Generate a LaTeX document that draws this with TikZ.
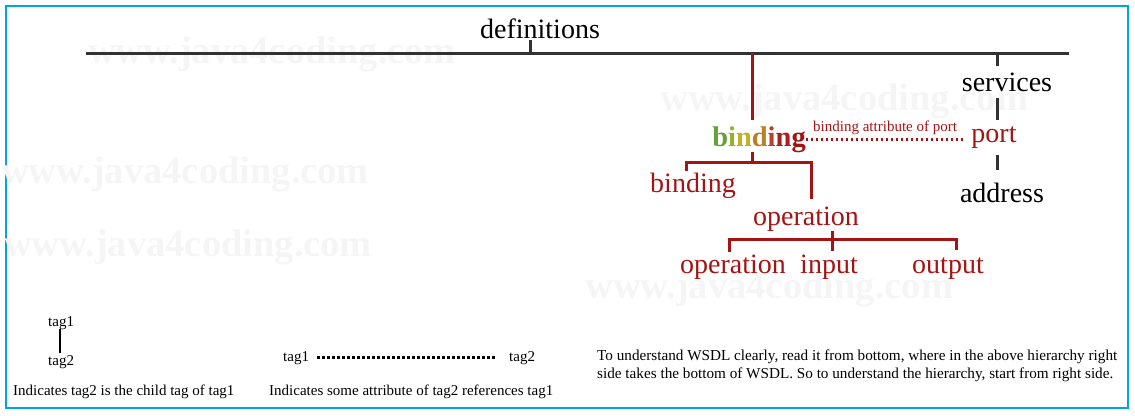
\documentclass[tikz,border=0pt]{standalone}
\usepackage{fontspec}
\setmainfont{Liberation Serif}

\definecolor{wsdlred}{RGB}{165,20,20}
\definecolor{framecyan}{RGB}{0,162,232}
\definecolor{treegray}{RGB}{50,50,50}
\definecolor{markgray}{RGB}{245,245,245}
\newcommand{\bigtxt}{\fontsize{28}{32}\selectfont}
\newcommand{\smalltxt}{\fontsize{15}{18}\selectfont}

\begin{document}
\begin{tikzpicture}[x=1pt,y=-1pt,
    lbl/.style={inner sep=0pt, anchor=base, font=\bigtxt},
    redlbl/.style={lbl, text=wsdlred},
    note/.style={inner sep=0pt, anchor=base west, font=\smalltxt},
    wmark/.style={inner sep=0pt, anchor=base west, text=markgray, font=\fontsize{38.5}{40}\selectfont\bfseries},
    blkline/.style={treegray, line width=3pt},
    redline/.style={wsdlred, line width=3pt},
    reddots/.style={wsdlred, line width=2.5pt, dash pattern=on 2.5pt off 2.5pt},
    blkdots/.style={black, line width=2.5pt, dash pattern=on 2.5pt off 2.5pt}]

    \useasboundingbox (0,0) rectangle (1135,415);
    \draw[framecyan, line width=2pt] (6,6) rectangle (1128,408);

    % watermarks
    \node[wmark] (wm1) at (88,63) {www.java4coding.com};
    \node[wmark] (wm2) at (660,110) {www.java4coding.com};
    \node[wmark] (wm3) at (1,183) {www.java4coding.com};
    \node[wmark] (wm4) at (4,256) {www.java4coding.com};
    \node[wmark] (wm5) at (585,298) {www.java4coding.com};

    % definitions
    \coordinate (lineL) at (86,53);
    \coordinate (lineR) at (1069,53);
    \draw[blkline] (lineL) -- (lineR);
    \node[lbl] (defs) at (540,38) {definitions};
    \draw[blkline] ([xshift=-10pt,yshift=-2pt]defs.south) -- ([xshift=-10pt]defs.south |- lineL);

    % services side
    \node[lbl] (serv) at (1007,91) {services};
    \node[redlbl] (port) at (994,142) {port};
    \node[lbl] (addr) at (1002,202) {address};
    \draw[blkline] ([xshift=-10pt,yshift=6pt]serv.north) -- ([xshift=-10pt]serv.north |- lineR);
    \draw[blkline] ([xshift=-10pt,yshift=-7pt]serv.south) -- ([xshift=3pt,yshift=6pt]port.north);
    \draw[blkline] ([xshift=3pt,yshift=-7pt]port.south) -- ([xshift=-5pt,yshift=12pt]addr.north);

    % binding side
    \node[lbl, font=\fontsize{28.5}{32}\selectfont\bfseries] (bindB) at (759,146)
        {\textcolor[RGB]{100,160,60}{b}\textcolor[RGB]{150,175,50}{i}\textcolor[RGB]{195,175,40}{n}\textcolor[RGB]{190,125,40}{d}\textcolor[RGB]{180,65,40}{i}\textcolor[RGB]{170,30,30}{n}\textcolor[RGB]{160,20,20}{g}};
    \draw[redline] ([xshift=-7pt,yshift=6pt]bindB.north) -- ([xshift=-7pt]bindB.north |- lineL);
    \draw[reddots] (bindB.east) -- ([xshift=-7pt]bindB.east -| port.west)
        node[midway, above=3pt, inner sep=0pt, font=\smalltxt, text=wsdlred] (attr) {binding attribute of port};

    \node[redlbl] (bindR) at (693,192) {binding};
    \node[redlbl] (opM) at (806,225) {operation};
    \draw[redline] ([xshift=-7pt]bindB.south) -- ++(0,12);
    \draw[redline] ([xshift=-7pt,yshift=1pt]bindR.north) -- ++(0,-9) -| ([xshift=5pt,yshift=7pt]opM.north);

    \node[redlbl] (opL) at (733,273) {operation};
    \node[redlbl] (inp) at (829,273) {input};
    \node[redlbl] (outp) at (948,273) {output};
    \draw[redline] ([xshift=26pt]opM.south) -- ([xshift=3pt,yshift=3pt]inp.north);
    \draw[redline] ([xshift=-4pt,yshift=2pt]opL.north) -- ++(0,-13) -| ([xshift=8pt,yshift=7pt]outp.north);

    % legend
    \node[note] (tagA) at (48,326) {tag1};
    \node[note] (tagB) at (48,365) {tag2};
    \draw[black, line width=2pt] ([xshift=-1pt]tagA.south) -- ([xshift=-1pt,yshift=2pt]tagB.north);
    \node[note] (capA) at (13,395) {Indicates tag2 is the child tag of tag1};

    \node[note] (tagC) at (283,361) {tag1};
    \node[note] (tagD) at (509,361) {tag2};
    \draw[blkdots] ([xshift=8pt]tagC.east) -- ([xshift=-12pt]tagC.east -| tagD.west);
    \node[note] (capB) at (269,395) {Indicates some attribute of tag2 references tag1};

    \node[note, anchor=north west, align=left, font=\fontsize{15.2}{18}\selectfont] (hint) at (597,350)
        {To understand WSDL clearly, read it from bottom, where in the above hierarchy right\\side takes the bottom of WSDL. So to understand the hierarchy, start from right side.};
\end{tikzpicture}
\end{document}
